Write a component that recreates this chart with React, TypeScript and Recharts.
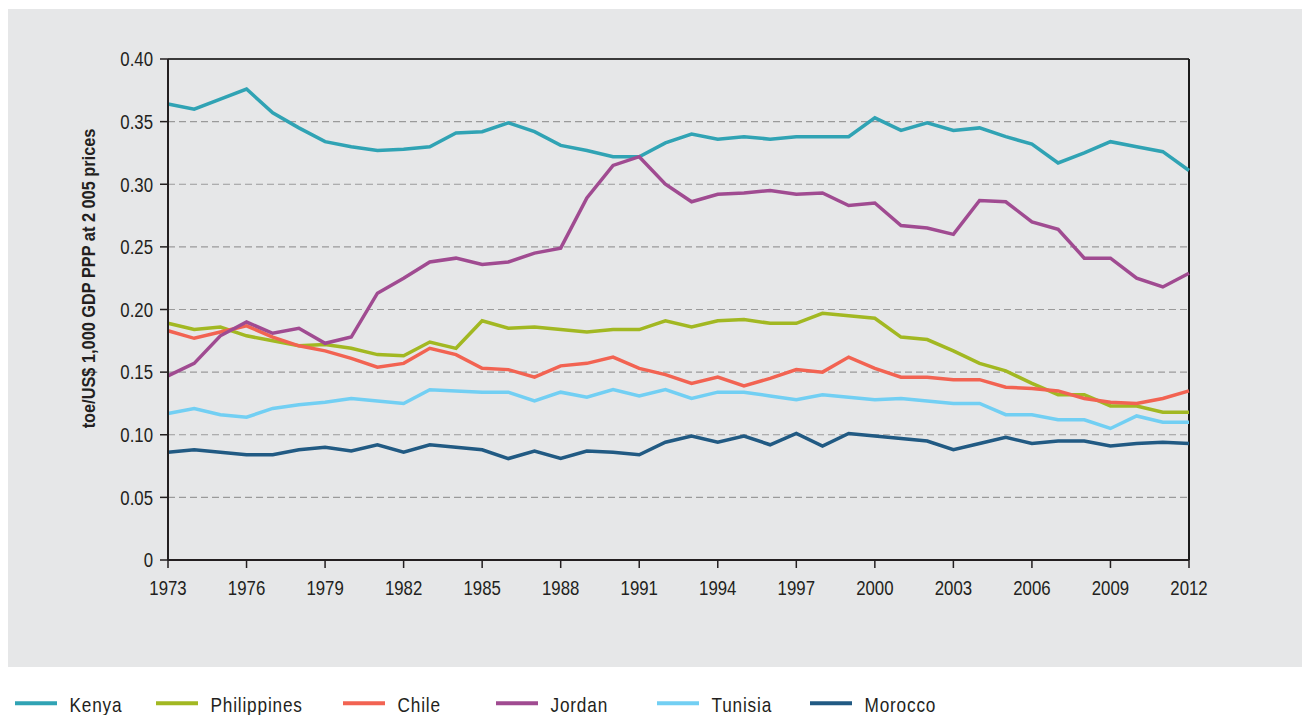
import React from 'react';
import { LineChart, Line, XAxis, YAxis, CartesianGrid, ReferenceLine, Legend } from 'recharts';

const years = [
  1973, 1974, 1975, 1976, 1977, 1978, 1979, 1980, 1981, 1982,
  1983, 1984, 1985, 1986, 1987, 1988, 1989, 1990, 1991, 1992,
  1993, 1994, 1995, 1996, 1997, 1998, 1999, 2000, 2001, 2002,
  2003, 2004, 2005, 2006, 2007, 2008, 2009, 2010, 2011, 2012,
];

const kenya = [
  0.364, 0.360, 0.368, 0.376, 0.357, 0.345, 0.334, 0.330, 0.327, 0.328,
  0.330, 0.341, 0.342, 0.349, 0.342, 0.331, 0.327, 0.322, 0.322, 0.333,
  0.340, 0.336, 0.338, 0.336, 0.338, 0.338, 0.338, 0.353, 0.343, 0.349,
  0.343, 0.345, 0.338, 0.332, 0.317, 0.325, 0.334, 0.330, 0.326, 0.311,
];

const philippines = [
  0.189, 0.184, 0.186, 0.179, 0.175, 0.171, 0.172, 0.169, 0.164, 0.163,
  0.174, 0.169, 0.191, 0.185, 0.186, 0.184, 0.182, 0.184, 0.184, 0.191,
  0.186, 0.191, 0.192, 0.189, 0.189, 0.197, 0.195, 0.193, 0.178, 0.176,
  0.167, 0.157, 0.151, 0.141, 0.132, 0.132, 0.123, 0.123, 0.118, 0.118,
];

const chile = [
  0.183, 0.177, 0.182, 0.187, 0.178, 0.171, 0.167, 0.161, 0.154, 0.157,
  0.169, 0.164, 0.153, 0.152, 0.146, 0.155, 0.157, 0.162, 0.153, 0.148,
  0.141, 0.146, 0.139, 0.145, 0.152, 0.150, 0.162, 0.153, 0.146, 0.146,
  0.144, 0.144, 0.138, 0.137, 0.135, 0.129, 0.126, 0.125, 0.129, 0.135,
];

const jordan = [
  0.147, 0.157, 0.179, 0.190, 0.181, 0.185, 0.173, 0.178, 0.213, 0.225,
  0.238, 0.241, 0.236, 0.238, 0.245, 0.249, 0.289, 0.315, 0.322, 0.300,
  0.286, 0.292, 0.293, 0.295, 0.292, 0.293, 0.283, 0.285, 0.267, 0.265,
  0.260, 0.287, 0.286, 0.270, 0.264, 0.241, 0.241, 0.225, 0.218, 0.229,
];

const tunisia = [
  0.117, 0.121, 0.116, 0.114, 0.121, 0.124, 0.126, 0.129, 0.127, 0.125,
  0.136, 0.135, 0.134, 0.134, 0.127, 0.134, 0.130, 0.136, 0.131, 0.136,
  0.129, 0.134, 0.134, 0.131, 0.128, 0.132, 0.130, 0.128, 0.129, 0.127,
  0.125, 0.125, 0.116, 0.116, 0.112, 0.112, 0.105, 0.115, 0.110, 0.110,
];

const morocco = [
  0.086, 0.088, 0.086, 0.084, 0.084, 0.088, 0.090, 0.087, 0.092, 0.086,
  0.092, 0.090, 0.088, 0.081, 0.087, 0.081, 0.087, 0.086, 0.084, 0.094,
  0.099, 0.094, 0.099, 0.092, 0.101, 0.091, 0.101, 0.099, 0.097, 0.095,
  0.088, 0.093, 0.098, 0.093, 0.095, 0.095, 0.091, 0.093, 0.094, 0.093,
];

const xTicks = [1973, 1976, 1979, 1982, 1985, 1988, 1991, 1994, 1997, 2000, 2003, 2006, 2009, 2012];
const yTicks = [0, 0.05, 0.1, 0.15, 0.2, 0.25, 0.3, 0.35, 0.4];
const yAxisTitle = 'toe/US$ 1,000 GDP PPP at 2 005 prices';

const seriesNames = ['Kenya', 'Philippines', 'Chile', 'Jordan', 'Tunisia', 'Morocco'];
const seriesValues = [kenya, philippines, chile, jordan, tunisia, morocco];
const seriesColors = ['#30a3b4', '#a2b822', '#f26352', '#a04b91', '#72cff3', '#215a83'];

const data = years.map((year, i) => {
  const row: Record<string, number> = { year };
  seriesNames.forEach((name, s) => {
    row[name] = seriesValues[s][i];
  });
  return row;
});

const FONT = "'Liberation Sans', Arial, sans-serif";
const INK = '#231f20';
const NARROW = 0.82;
const legendLefts = [15, 156, 343, 496, 657, 810];

const fmtY = (v: number) => (v === 0 ? '0' : v.toFixed(2));

const XTick = (props: any) => {
  const { x, y, payload } = props;
  return (
    <text
      transform={`translate(${x},${y + 14.5}) scale(${NARROW},1)`}
      x={0}
      y={0}
      textAnchor="middle"
      fill={INK}
      fontFamily={FONT}
      fontSize={20.5}
    >
      {payload.value}
    </text>
  );
};

const YTick = (props: any) => {
  const { x, y, payload } = props;
  return (
    <text
      transform={`translate(${x},${y + 7.3}) scale(${NARROW},1)`}
      x={0}
      y={0}
      textAnchor="end"
      fill={INK}
      fontFamily={FONT}
      fontSize={20.5}
    >
      {fmtY(payload.value)}
    </text>
  );
};

const YLabel = (props: any) => {
  const vb = props.viewBox || { x: 88, y: 59, width: 80, height: 501 };
  const cx = vb.x + 1;
  const cy = vb.y + vb.height / 2 - 31;
  return (
    <text
      transform={`translate(${cx},${cy}) rotate(-90) scale(0.86,1)`}
      x={0}
      y={0}
      textAnchor="middle"
      dominantBaseline="central"
      fill={INK}
      fontFamily={FONT}
      fontWeight="bold"
      fontSize={19}
    >
      {yAxisTitle}
    </text>
  );
};

const LegendContent = () => (
  <svg width={1302} height={30} style={{ display: 'block' }}>
    {seriesNames.map((name, i) => (
      <g key={name}>
        <line x1={legendLefts[i]} x2={legendLefts[i] + 42} y1={11.3} y2={11.3} stroke={seriesColors[i]} strokeWidth={4} />
        <text
          transform={`translate(${legendLefts[i] + 54.5},${19.7}) scale(${NARROW},1)`}
          x={0}
          y={0}
          fill={INK}
          fontFamily={FONT}
          fontSize={21}
          letterSpacing={1}
        >
          {name}
        </text>
      </g>
    ))}
  </svg>
);

export default function App() {
  return (
    <div style={{ position: 'absolute', left: 0, top: 0, width: 1302, height: 715, overflow: 'hidden', background: '#ffffff' }}>
      <div style={{ position: 'absolute', left: 8, top: 9, width: 1294, height: 658, background: '#e6e7e8' }} />
      <div style={{ position: 'absolute', left: 0, top: 0 }}>
        <LineChart width={1302} height={715} data={data} margin={{ top: 59, right: 113, bottom: 125, left: 88 }}>
          <CartesianGrid vertical={false} stroke="#9a9a9a" strokeDasharray="7 4" strokeWidth={1.2} />
          <XAxis
            dataKey="year"
            type="number"
            domain={[1973, 2012]}
            ticks={xTicks}
            interval={0}
            height={30}
            tickSize={8}
            tickMargin={12}
            tick={<XTick />}
            axisLine={{ stroke: INK, strokeWidth: 2 }}
            tickLine={{ stroke: INK, strokeWidth: 1.5 }}
          />
          <YAxis
            type="number"
            domain={[0, 0.4]}
            ticks={yTicks}
            interval={0}
            width={80}
            tickSize={8}
            tickMargin={7}
            tick={<YTick />}
            axisLine={{ stroke: INK, strokeWidth: 2 }}
            tickLine={{ stroke: INK, strokeWidth: 1.5 }}
            label={<YLabel />}
          />
          <ReferenceLine y={0.4} stroke="#3a3a3a" strokeWidth={2} />
          <ReferenceLine x={2012} stroke="#1a1a1a" strokeWidth={2} />
          {seriesNames.map((name, s) => (
            <Line
              key={name}
              type="linear"
              dataKey={name}
              name={name}
              stroke={seriesColors[s]}
              strokeWidth={3.5}
              dot={false}
              activeDot={false}
              isAnimationActive={false}
            />
          ))}
          <Legend
            layout="horizontal"
            verticalAlign="middle"
            align="center"
            wrapperStyle={{ top: 692, left: 0, width: 1302, height: 30 }}
            content={<LegendContent />}
          />
        </LineChart>
      </div>
    </div>
  );
}
